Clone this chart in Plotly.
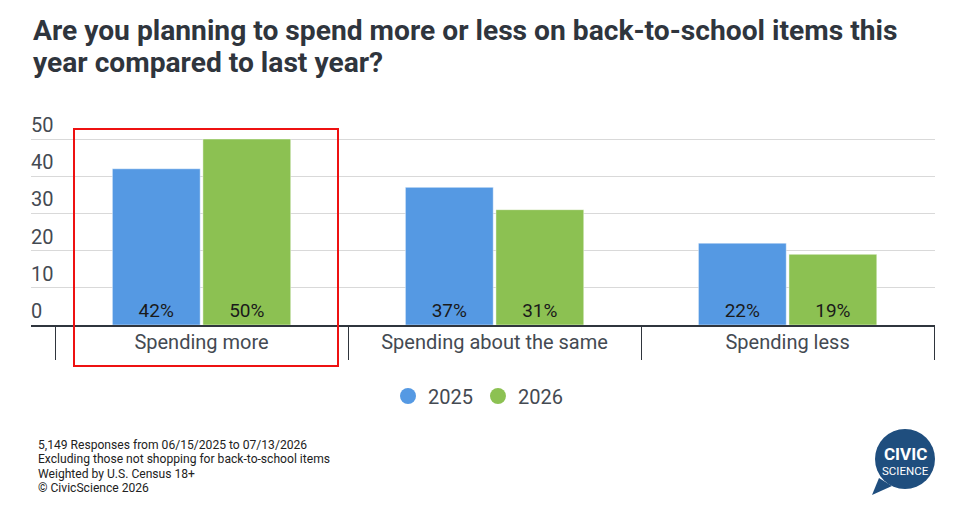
import plotly.graph_objects as go

# survey answers and shares (%)
categories = ["Spending more", "Spending about the same", "Spending less"]
share_2025 = [42, 37, 22]
share_2026 = [50, 31, 19]
series_names = ["2025", "2026"]
y_ticks = [0, 10, 20, 30, 40, 50]

title_lines = [
    "Are you planning to spend more or less on back-to-school items this",
    "year compared to last year?",
]
notes = [
    "5,149 Responses from 06/15/2025 to 07/13/2026",
    "Excluding those not shopping for back-to-school items",
    "Weighted by U.S. Census 18+",
    "\u00a9 CivicScience 2026",
]

BLUE = "#5599e3"
GREEN = "#8cc152"
DARK = "#2f353d"
GREY_TXT = "#444a52"
LOGO = "#1f4e7e"

# the page body adds an 8px offset, so the figure is drawn 8px smaller
OFF = 8
W, H = 966 - OFF, 512 - OFF
# plot area in reference pixels
L, R, T, B = 31, 935, 100, 325
Y_TOP = 50 * (B - T) / (325 - 139)  # keeps the 50 line at y=139


def px_x(p):
    return (p - L) / (R - L)


def px_y(p):
    return (B - p) / (B - T)


fig = go.Figure()
for name, vals, col in [(series_names[0], share_2025, BLUE), (series_names[1], share_2026, GREEN)]:
    fig.add_trace(go.Bar(
        x=categories, y=vals, name=name,
        marker=dict(color=col, line=dict(color="rgba(255,255,255,0.45)", width=1)),
        texttemplate="%{y}%", textposition="inside", insidetextanchor="start",
        textangle=0, constraintext="none",
        textfont=dict(size=19, color="#1a1a1a", family="Roboto"),
        showlegend=False,
    ))
    # round legend markers
    fig.add_trace(go.Scatter(
        x=[None], y=[None], mode="markers", name=name,
        marker=dict(symbol="circle", size=16, color=col),
    ))

fig.update_layout(
    width=W, height=H,
    margin=dict(l=L - OFF, r=W - (R - OFF), t=T - OFF, b=H - (B - OFF), pad=0),
    paper_bgcolor="white", plot_bgcolor="white",
    font=dict(family="Roboto", color=GREY_TXT),
    barmode="group", bargap=0.382, bargroupgap=0.03,
    legend=dict(
        orientation="h", x=px_x(478), xanchor="center", y=px_y(396), yanchor="middle",
        font=dict(size=20, color=GREY_TXT),
    ),
    xaxis=dict(
        type="category", range=[-0.582, 2.503],
        showgrid=False, showline=True, linewidth=2, linecolor=DARK,
        ticks="outside", tickson="boundaries", ticklen=33, tickwidth=1, tickcolor=DARK,
        ticklabelstandoff=-2,
        tickfont=dict(size=20, color=GREY_TXT),
    ),
    yaxis=dict(
        range=[0, Y_TOP], tickvals=y_ticks,
        showgrid=True, gridcolor="#d9d9d9", gridwidth=1, zeroline=False,
        ticklabelposition="inside top", ticklabelstandoff=-3,
        tickfont=dict(size=20, color=GREY_TXT),
    ),
)

# title, one annotation per line
for i, line in enumerate(title_lines):
    fig.add_annotation(text="<b>" + line + "</b>", xref="paper", yref="paper",
                       x=px_x(31), y=px_y(30 + 32 * i), xanchor="left", yanchor="middle",
                       showarrow=False, font=dict(size=28.2, color=DARK, family="Roboto"))

# highlight box around the first group
fig.add_shape(type="rect", xref="paper", yref="paper",
              x0=px_x(74), x1=px_x(338), y0=px_y(366), y1=px_y(129),
              line=dict(color="#ee1111", width=2), fillcolor="rgba(0,0,0,0)")

# footnote
for i, line in enumerate(notes):
    fig.add_annotation(text=line, xref="paper", yref="paper",
                       x=px_x(36), y=px_y(445 + 14.3 * i), xanchor="left", yanchor="middle",
                       showarrow=False, font=dict(size=12.1, color="#222222"))

# logo: speech bubble
fig.add_shape(type="circle", xref="paper", yref="paper",
              x0=px_x(875), x1=px_x(935), y0=px_y(489), y1=px_y(429),
              fillcolor=LOGO, line=dict(width=0))
fig.add_shape(type="path", xref="paper", yref="paper",
              path=f"M {px_x(879)} {px_y(478)} L {px_x(872)} {px_y(495)} L {px_x(892)} {px_y(486)} Z",
              fillcolor=LOGO, line=dict(width=0))
fig.add_annotation(text="<b>CIVIC</b>", xref="paper", yref="paper",
                   x=px_x(905), y=px_y(454), xanchor="center", yanchor="middle", showarrow=False,
                   font=dict(size=17, color="white", family="Roboto"))
fig.add_annotation(text="SCIENCE", xref="paper", yref="paper",
                   x=px_x(905), y=px_y(471), xanchor="center", yanchor="middle", showarrow=False,
                   font=dict(size=11.5, color="white", family="Roboto"))

fig.write_html("out.html")
